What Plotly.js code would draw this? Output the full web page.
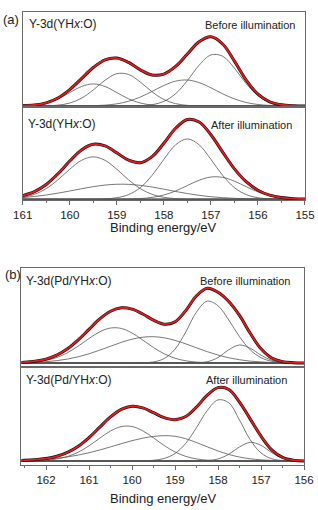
<!DOCTYPE html>
<html><head><meta charset="utf-8">
<script src="https://cdn.plot.ly/plotly-3.0.1.min.js"></script>
<style>html,body{margin:0;padding:0;background:#fff}#chart{width:318px;height:510px}</style>
</head><body><div id="chart"></div>
<script>
// Binding energies (eV)
var energyA = [161,160.75,160.5,160.25,160,159.75,159.5,159.25,159,158.75,158.5,158.25,158,157.75,157.5,157.25,157,156.75,156.5,156.25,156,155.75,155.5,155.25,155];
var energyB = [162.75,162.5,162.25,162,161.75,161.5,161.25,161,160.75,160.5,160.25,160,159.75,159.5,159.25,159,158.75,158.5,158.25,158,157.75,157.5,157.25,157,156.75,156.5,156.25,156];

// (a) YHx:O, before illumination
var aTopC1 = [0.7,2.9,9.0,21.8,40.7,59.1,67,59.1,40.7,21.8,9.0,2.9,0.7,0.1,0,0,0,0,0,0,0,0,0,0,0];
var aTopC2 = [0,0.1,0.6,2.6,8.9,23.6,48.7,78.3,98,95.6,72.6,43,19.8,7.1,2,0.4,0.1,0,0,0,0,0,0,0,0];
var aTopC3 = [0,0,0,0,0.1,0.2,0.9,2.6,6.6,14.4,27.2,44.2,62.2,75.4,78.8,71,55.2,37,21.5,10.7,4.6,1.7,0.6,0.2,0];
var aTopC4 = [0,0,0,0,0,0,0,0,0,0.2,0.9,4.1,14.1,37.3,76.9,123.7,154.8,151,114.7,67.9,31.3,11.2,3.2,0.6,0.2];
var aTopEnv = [1.5,3.0,9.6,24.4,49.7,82.9,116.6,140,145.3,132,109.7,94.2,96.8,119.9,157.7,195.1,210.1,188,136.2,78.6,35.9,12.9,3.8,0.8,0.2];

// (a) YHx:O, after illumination
var aBotC1 = [5.7,14.8,32.4,59.5,91.9,119.2,130,119.2,91.9,59.5,32.4,14.8,5.7,1.8,0.5,0.1,0,0,0,0,0,0,0,0,0];
var aBotC2 = [5.1,8.3,12.8,18.5,25.1,32.1,38.4,43.3,45.8,45.5,42.5,37.3,30.7,23.7,17.3,11.8,7.5,4.6,2.6,1.4,0.7,0.3,0.1,0,0];
var aBotC3 = [0,0,0,0,0,0,0.2,1.1,4.4,14.1,35.3,73.1,122.3,166.9,185,166.9,122.3,73.1,35.3,14.1,4.4,1.1,0.2,0,0];
var aBotC4 = [0,0,0,0,0,0,0,0,0.1,0.6,1.9,5.5,12.8,25.3,41.9,58.2,68,66.9,55.3,38.4,22.4,11,4.6,1.6,0.5];
var aBotEnv = [10.8,23.1,45.2,78,117,151.3,168.6,163.6,142.2,119.7,112.1,130.7,171.5,217.7,244.7,237,197.8,144.6,93.2,53.9,27.5,12.4,4.9,1.6,0.5];

// (b) Pd/YHx:O, before illumination
var bTopC1 = [0.4,1.2,3.2,7.8,16.5,30.8,50.7,73.4,93.6,104.9,103.6,90,68.9,46.4,27.5,14.3,6.6,2.7,0.9,0.3,0.1,0,0,0,0,0,0,0];
var bTopC2 = [0.5,1.0,2.1,3.9,7.0,11.8,18.6,27.6,38.5,50.3,61.9,71.4,77.4,78.9,75.5,67.9,57.4,45.5,34,23.8,15.6,9.7,5.6,3.1,1.6,0.8,0.3,0.1];
var bTopC3 = [0,0,0,0,0,0,0,0,0,0,0,0.1,0.6,3.2,13.5,41.3,93,153,185.5,171.7,129.1,78.9,39.3,15.9,5.2,1.4,0.3,0.1];
var bTopC4 = [0,0,0,0,0,0,0,0,0,0,0,0,0,0,0,0,0,0.5,3.8,16.4,39.6,54,44.2,23.5,8.1,1.8,0.3,0];
var bTopEnv = [0.9,2.2,5.3,11.7,23.5,42.6,69.3,101,132.1,155.2,165.5,161.5,146.9,128.5,116.5,123.5,157,201.7,224.2,212.2,184.4,142.6,89.1,42.5,14.9,4,0.9,0.1];

// (b) Pd/YHx:O, after illumination
var bBotC1 = [0.1,0.2,0.8,2.3,6,13.4,26.4,45.5,68.4,89.8,103.1,103.4,90.5,69.3,46.3,27.1,13.8,6.2,2.4,0.8,0.2,0.1,0,0,0,0,0,0];
var bBotC2 = [1.0,1.7,3.0,5.0,8.0,12.1,17.7,24.7,33,42.3,51.8,60.9,68.4,73.6,76,74.1,66.7,55.4,42.5,30,19.6,11.8,6.5,3.4,1.6,0.7,0.3,0.1];
var bBotC3 = [0,0,0,0,0,0,0,0,0,0,0,0.1,0.5,2.1,7.6,22.5,53,100.1,151.4,183.3,174.6,122.8,63.4,24.1,6.7,1.4,0.2,0];
var bBotC4 = [0,0,0,0,0,0,0,0,0,0,0,0,0,0,0,0,0,0.1,1.2,6.1,20.1,42.1,55.8,46.9,25,8.4,1.8,0.2];
var bBotEnv = [1.1,1.9,3.8,7.3,14,25.5,44.1,70.2,101.4,132.1,154.9,164.4,159.4,145,129.9,123.7,133.5,161.8,197.5,220.2,214.5,176.8,125.7,74.4,33.3,10.5,2.3,0.3];

// Background (baseline) end values
var baseEA = [161,155];
var baseEB = [162.75,156];
var baseVal = [0,0];

var xTickVals = [155,156,157,158,159,160,161,162];

var traces = [];
function panel(xE, comps, env, bE, xa, ya) {
  traces.push({x:bE, y:baseVal, xaxis:xa, yaxis:ya, mode:'lines', line:{color:'#222', width:1.3}, hoverinfo:'skip'});
  comps.forEach(function(c){
    traces.push({x:xE, y:c, xaxis:xa, yaxis:ya, mode:'lines', line:{color:'#555', width:0.8, shape:'spline', smoothing:1}, hoverinfo:'skip'});
  });
  traces.push({x:xE, y:env, xaxis:xa, yaxis:ya, mode:'lines', line:{color:'#111', width:3, shape:'spline', smoothing:1}, hoverinfo:'skip'});
  traces.push({x:xE, y:env, xaxis:xa, yaxis:ya, mode:'lines', line:{color:'#e8191e', width:1.8, shape:'spline', smoothing:1}, hoverinfo:'skip'});
}
panel(energyA, [aTopC1,aTopC2,aTopC3,aTopC4], aTopEnv, baseEA, 'x', 'y');
panel(energyA, [aBotC1,aBotC2,aBotC3,aBotC4], aBotEnv, baseEA, 'x2', 'y2');
panel(energyB, [bTopC1,bTopC2,bTopC3,bTopC4], bTopEnv, baseEB, 'x3', 'y3');
panel(energyB, [bBotC1,bBotC2,bBotC3,bBotC4], bBotEnv, baseEB, 'x4', 'y4');

var FONT = 'Liberation Sans, Arial, sans-serif';
var frame = '#6a6a6a';
function xTop(dom, rng, anchor){
  return {domain:dom, range:rng, anchor:anchor, showline:true, mirror:true, linecolor:frame, linewidth:1,
    ticks:'', showticklabels:false, showgrid:false, zeroline:false, fixedrange:true};
}
function xBot(dom, rng, anchor){
  return {domain:dom, range:rng, anchor:anchor, showline:true, mirror:true, linecolor:frame, linewidth:1,
    ticks:'outside', ticklen:4, tickwidth:1, tickcolor:frame, tickvals:xTickVals,
    minor:{dtick:0.5, ticks:'outside', ticklen:2, tickcolor:frame, tickwidth:1},
    tickfont:{family:FONT, size:11.5, color:'#222'}, showgrid:false, zeroline:false, fixedrange:true};
}
function yAx(dom, rng, anchor){
  return {domain:dom, range:rng, anchor:anchor, showline:true, mirror:true, linecolor:frame, linewidth:1,
    ticks:'', showticklabels:false, showgrid:false, zeroline:false, fixedrange:true};
}
function ann(text, x, y, xa, size){
  return {text:text, x:x, y:y, xref:'paper', yref:'paper', xanchor:xa, yanchor:'middle', showarrow:false,
    font:{family:FONT, size:size, color:'#222'}};
}
var domA = [0.0714, 0.9591], domB = [0.0676, 0.9560];
var layout = {
  width:318, height:510, margin:{l:0,r:0,t:0,b:0}, paper_bgcolor:'#fff', plot_bgcolor:'#fff', showlegend:false,
  xaxis: xTop(domA, [161,155], 'y'),
  yaxis: yAx([0.7902,0.9765], [-3,285], 'x'),
  xaxis2: xBot(domA, [161,155], 'y2'),
  yaxis2: yAx([0.6069,0.7902], [-4,283], 'x2'),
  xaxis3: xTop(domB, [162.57,156], 'y3'),
  yaxis3: yAx([0.2804,0.4739], [-12,284], 'x3'),
  xaxis4: xBot(domB, [162.57,156], 'y4'),
  yaxis4: yAx([0.0873,0.2804], [-13.5,282], 'x4'),
  annotations: [
    ann('(a)', 0.004, 0.9608, 'left', 13),
    ann('Y-3d(YH<i>x</i>:O)', 0.086, 0.9529, 'left', 12),
    ann('Before illumination', 0.936, 0.951, 'right', 11),
    ann('Y-3d(YH<i>x</i>:O)', 0.083, 0.7569, 'left', 12),
    ann('After illumination', 0.926, 0.7549, 'right', 11),
    ann('Binding energy/eV', 0.5157, 0.5539, 'center', 13),
    ann('(b)', 0.008, 0.4608, 'left', 13),
    ann('Y-3d(Pd/YH<i>x</i>:O)', 0.074, 0.449, 'left', 12),
    ann('Before illumination', 0.922, 0.449, 'right', 11),
    ann('Y-3d(Pd/YH<i>x</i>:O)', 0.077, 0.2549, 'left', 12),
    ann('After illumination', 0.909, 0.2549, 'right', 11),
    ann('Binding energy/eV', 0.5126, 0.0235, 'center', 13)
  ]
};
Plotly.newPlot('chart', traces, layout, {staticPlot:true, displayModeBar:false});
</script></body></html>
